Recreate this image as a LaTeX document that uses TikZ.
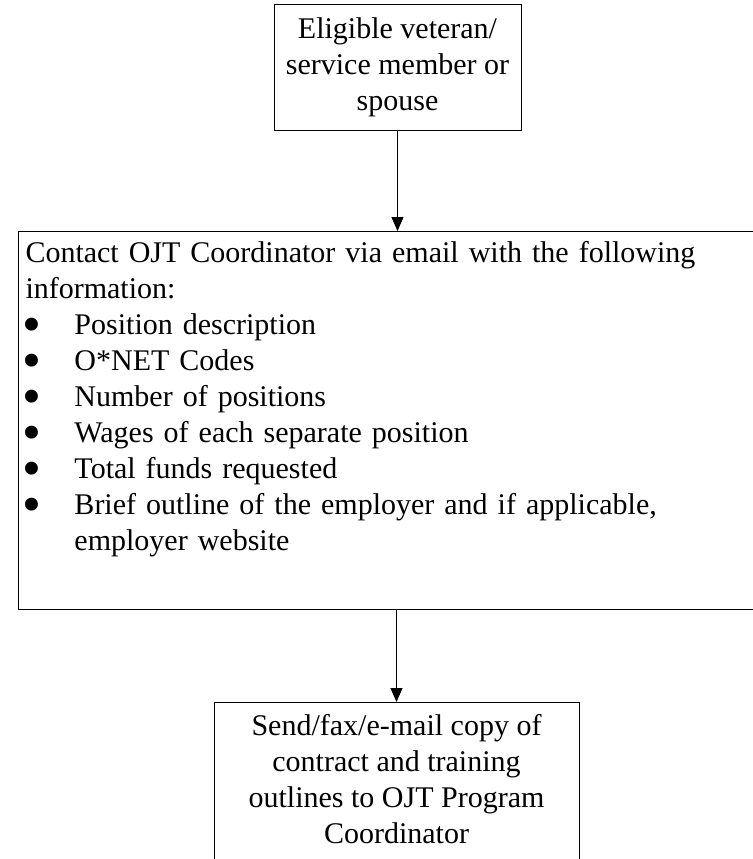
\documentclass[tikz,border=0pt]{standalone}
\usepackage{fontspec}
\setmainfont{Liberation Serif}
\usetikzlibrary{arrows, arrows.meta}
\newcommand{\ojtitem}[1]{\makebox[24.5pt][l]{\hspace{-1.7pt}\raisebox{-4pt}{\scalebox{1.8}{\textbullet}}}#1}

\begin{document}
\begin{tikzpicture}[
    flowbox/.style={draw, line width=0.5pt, font=\fontsize{15}{18}\selectfont},
    flowarrow/.style={line width=0.5pt, -{Triangle[width=6pt, length=7pt]}}
  ]
    \useasboundingbox (0,0) rectangle (376.5pt,-429.5pt);
    \node[flowbox, anchor=north, align=center, minimum width=123.5pt, minimum height=63pt] (veteran) at (198.75pt,-2pt) {Eligible veteran/\\ service member or\\ spouse};
    \node[flowbox, anchor=north west, align=left, text width=362pt, inner xsep=3.5pt, inner ysep=5pt] (contact) at (9pt,-115.5pt) {Contact OJT Coordinator via email with the following\\ information:\\ \ojtitem{Position description}\\ \ojtitem{O*NET Codes}\\ \ojtitem{Number of positions}\\ \ojtitem{Wages of each separate position}\\ \ojtitem{Total funds requested}\\ \ojtitem{Brief outline of the employer and if applicable,}\\ \hspace*{24.5pt}employer website\rule[-24.5pt]{0pt}{24.5pt}};
    \node[flowbox, anchor=north, align=center, minimum width=182.5pt, inner ysep=6pt] (send) at (198.25pt,-351pt) {Send/fax/e-mail copy of\\ contract and training\\ outlines to OJT Program\\ Coordinator\rule[-12pt]{0pt}{12pt}};

    \draw[flowarrow] (veteran.south) -- (veteran.south |- contact.north);
    \draw[flowarrow] (send.north |- contact.south) -- (send.north);
\end{tikzpicture}
\end{document}
